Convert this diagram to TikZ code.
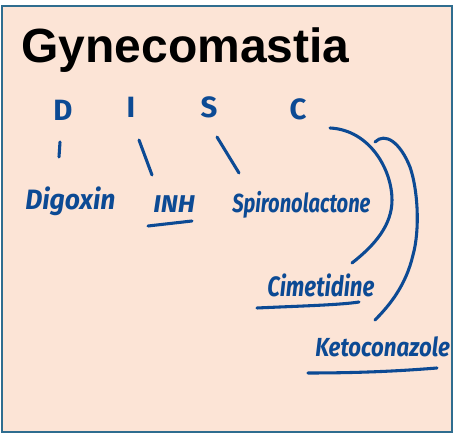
\documentclass[tikz,border=0pt]{standalone}
\usepackage{fontspec}
\setmainfont{Liberation Sans}
\newfontfamily\hwfont{Fira Sans}
\definecolor{bgpeach}{RGB}{252,228,214}
\definecolor{frameblue}{RGB}{47,109,143}
\definecolor{ink}{RGB}{12,74,148}
\begin{document}
\begin{tikzpicture}[x=0.75pt,y=-0.75pt,
  inkline/.style={draw=ink,line width=2.3pt,line cap=round},
  letter/.style={text=ink,inner sep=0pt,font=\hwfont\bfseries\fontsize{22}{24}\selectfont},
  hwlabel/.style={text=ink,inner sep=0pt,anchor=base west,font=\hwfont\bfseries\itshape\fontsize{14}{18}\selectfont},
  title/.style={inner sep=0pt,anchor=base west,font=\bfseries\fontsize{36}{40}\selectfont}]
\useasboundingbox (0,0) rectangle (454,434);
\draw[fill=bgpeach,draw=frameblue,line width=1.6pt] (2,6) rectangle (452,432);
\node[title] (title) at (21,63) {Gynecomastia};
% letters
\node[letter,anchor=base] (D) at (63,121) {D};
\node[letter,anchor=base] (I) at (131,118) {I};
\node[letter,anchor=base] (S) at (209,118) {S};
\node[letter,anchor=base] (C) at (298,120) {C};
% labels
\node[hwlabel] (dig) at (25,210) {\scalebox{1.42}[1.5]{Digoxin}};
\node[hwlabel] (inh) at (153,213) {\scalebox{1.4}[1.3]{INH}};
\node[hwlabel] (spi) at (232,213) {\scalebox{1.08}[1.4]{Spironolactone}};
\node[hwlabel] (cim) at (267,297) {\scalebox{1.19}[1.5]{Cimetidine}};
\node[hwlabel] (ket) at (315,357) {\scalebox{1.19}[1.4]{Ketoconazole}};
% connector end points
\coordinate (d1) at (60,142); \coordinate (d2) at (59,157);
\coordinate (i1) at (139,140); \coordinate (i2) at (152,175);
\coordinate (s1) at (217,137); \coordinate (s2) at (239,173);
\coordinate (c1) at (330,128); \coordinate (c2) at (352,263);
\coordinate (k1) at (375,142); \coordinate (k2) at (375,320);
\draw[inkline] (d1) -- (d2);
\draw[inkline] (i1) -- (i2);
\draw[inkline] (s1) -- (s2);
\draw[inkline] (c1) .. controls (370,130) and (392,170) .. (392,200)
  .. controls (392,225) and (375,245) .. (c2);
\draw[inkline] (k1) .. controls (385,132) and (400,142) .. (410,167)
  .. controls (418,190) and (420,230) .. (413,255)
  .. controls (406,285) and (390,305) .. (k2);
% underlines
\coordinate (u1a) at (148,226); \coordinate (u1b) at (192,221);
\coordinate (u2a) at (257,308); \coordinate (u2b) at (359,302);
\coordinate (u3a) at (308,373); \coordinate (u3b) at (437,368);
\draw[inkline] (u1a) -- (u1b);
\draw[inkline] (u2a) .. controls (300,306) and (340,305) .. (u2b);
\draw[inkline] (u3a) .. controls (360,373) and (400,371) .. (u3b);
\end{tikzpicture}
\end{document}
